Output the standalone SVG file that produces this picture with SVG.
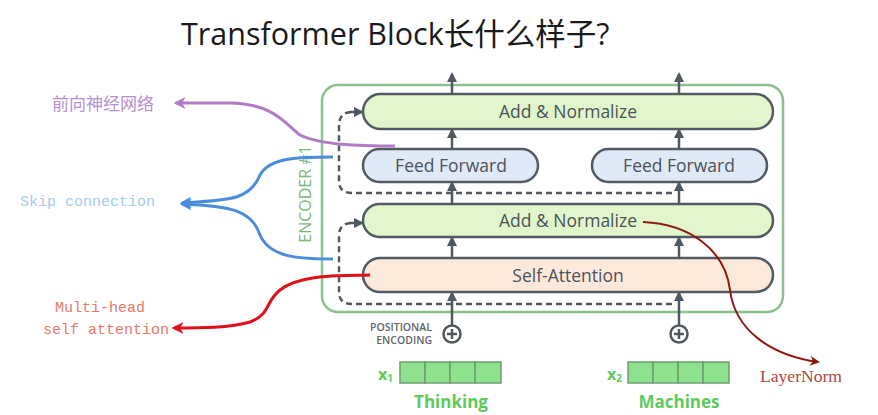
<svg xmlns="http://www.w3.org/2000/svg" width="878" height="415" viewBox="0 0 878 415">
<defs>
<marker id="ag" viewBox="0 0 10 10" refX="8" refY="5" markerWidth="4" markerHeight="4" orient="auto" markerUnits="strokeWidth"><path d="M0,0 L10,5 L0,10 Z" fill="#505860"/></marker>
<marker id="ap" viewBox="0 0 10 10" refX="8" refY="5" markerWidth="4" markerHeight="4" orient="auto" markerUnits="strokeWidth"><path d="M0,0 L10,5 L0,10 L3,5 Z" fill="#b07cc6"/></marker>
<marker id="ab" viewBox="0 0 10 10" refX="8" refY="5" markerWidth="4" markerHeight="4" orient="auto" markerUnits="strokeWidth"><path d="M0,0 L10,5 L0,10 L3,5 Z" fill="#4a8ddc"/></marker>
<marker id="ar" viewBox="0 0 10 10" refX="8" refY="5" markerWidth="4" markerHeight="4" orient="auto" markerUnits="strokeWidth"><path d="M0,0 L10,5 L0,10 L3,5 Z" fill="#e0101a"/></marker>
<marker id="ad" viewBox="0 0 10 10" refX="8" refY="5" markerWidth="5" markerHeight="5" orient="auto" markerUnits="strokeWidth"><path d="M0,0 L10,5 L0,10 L3,5 Z" fill="#901a10"/></marker>
</defs>
<style>
.box{stroke:#525a62;stroke-width:2.5}
.an{fill:#e2f6cc}
.ff{fill:#dfe9f7}
.sa{fill:#fde9dc}
.lbl{font-family:"Open Sans","Liberation Sans",sans-serif;font-size:17.5px;fill:#4c5257;text-anchor:middle}
.flow{stroke:#505860;stroke-width:2.5;fill:none;marker-end:url(#ag)}
.dash{stroke:#505860;stroke-width:2.5;fill:none;stroke-dasharray:6 4}
.cell{fill:#8ee28e;stroke:#6e9c6e;stroke-width:1.5}
.grn{font-family:"Open Sans","Liberation Sans",sans-serif;font-weight:bold;fill:#5ccb5c}
.mono{font-family:"Liberation Mono",monospace;font-size:15px}
.pe{font-family:"Open Sans","Liberation Sans",sans-serif;font-size:10.5px;font-weight:600;fill:#60666c;text-anchor:end}
</style>
<rect width="878" height="415" fill="#ffffff"/>
<text x="181" y="45" font-family="Open Sans, Noto Sans CJK SC, sans-serif" font-size="30.5" fill="#1a1a1a">Transformer Block长什么样子?</text>

<g id="encoder">
<rect x="322" y="85" width="461" height="227" rx="16" fill="none" stroke="#8cc08c" stroke-width="2.5"/>
<text transform="translate(311,194) rotate(-90)" font-family="Open Sans, Liberation Sans, sans-serif" font-size="16" fill="#7cb87c" text-anchor="middle">ENCODER #1</text>
</g>

<g id="connectors">
<path class="flow" d="M452,94 V74"/>
<path class="flow" d="M679,94 V74"/>
<path class="flow" d="M452,149 V130"/>
<path class="flow" d="M679,149 V130"/>
<path class="flow" d="M452,204 V183"/>
<path class="flow" d="M679,204 V183"/>
<path class="flow" d="M452,258 V238"/>
<path class="flow" d="M679,258 V238"/>
<path class="flow" d="M452,325 V293"/>
<path class="flow" d="M679,325 V293"/>
<path class="dash" d="M672,304 H352 Q339,304 339,292 V236 Q339,223 352,223"/>
<path class="flow" d="M350,223 H362"/>
<path class="dash" d="M672,193 H352 Q339,193 339,181 V126 Q339,112 352,112"/>
<path class="flow" d="M350,112 H362"/>
</g>

<g id="add-norm-top"><rect class="box an" x="363" y="94" width="410" height="35" rx="17.5"/><text class="lbl" x="568" y="118">Add &amp; Normalize</text></g>
<g id="ff-left"><rect class="box ff" x="363" y="149" width="175" height="33" rx="16.5"/><text class="lbl" x="451" y="171.5">Feed Forward</text></g>
<g id="ff-right"><rect class="box ff" x="592" y="149" width="175" height="33" rx="16.5"/><text class="lbl" x="679" y="171.5">Feed Forward</text></g>
<g id="add-norm-mid"><rect class="box an" x="363" y="204" width="410" height="33" rx="16.5"/><text class="lbl" x="568" y="227">Add &amp; Normalize</text></g>
<g id="self-attention"><rect class="box sa" x="363" y="258" width="410" height="34" rx="17"/><text class="lbl" x="568" y="281.5">Self-Attention</text></g>

<g id="pos-enc">
<text class="pe" x="432" y="331">POSITIONAL</text>
<text class="pe" x="432" y="344">ENCODING</text>
<g fill="none" stroke="#505860" stroke-width="2.5">
<circle cx="452" cy="334" r="8.5"/><path d="M447,334 H457 M452,329 V339"/>
<circle cx="679" cy="334" r="8.5"/><path d="M674,334 H684 M679,329 V339"/>
</g>
</g>

<g id="input-thinking">
<text class="grn" x="378" y="380" font-size="16">x<tspan font-size="10" dy="2">1</tspan></text>
<rect class="cell" x="400" y="362" width="25" height="21"/><rect class="cell" x="425" y="362" width="25" height="21"/><rect class="cell" x="450" y="362" width="25" height="21"/><rect class="cell" x="475" y="362" width="26" height="21"/>
<text class="grn" x="451" y="408" font-size="17" text-anchor="middle">Thinking</text>
</g>
<g id="input-machines">
<text class="grn" x="607" y="380" font-size="16">x<tspan font-size="10" dy="2">2</tspan></text>
<rect class="cell" x="628" y="362" width="25" height="21"/><rect class="cell" x="653" y="362" width="25" height="21"/><rect class="cell" x="678" y="362" width="25" height="21"/><rect class="cell" x="703" y="362" width="26" height="21"/>
<text class="grn" x="679" y="408" font-size="17" text-anchor="middle">Machines</text>
</g>

<g id="annotations">
<path d="M395,146 C360,146 320,145 300,135 C285,124 275,104 230,103 L176,103" fill="none" stroke="#b07cc6" stroke-width="3" marker-end="url(#ap)"/>
<text x="52" y="110" font-family="Noto Sans CJK SC, sans-serif" font-size="17" fill="#b88ed2">前向神经网络</text>

<path d="M333,157 C300,157 270,157 260,175 C250,200 230,200 182,203" fill="none" stroke="#4a8ddc" stroke-width="3" marker-end="url(#ab)"/>
<path d="M333,259 C300,259 270,258 260,235 C252,210 230,206 182,204" fill="none" stroke="#4a8ddc" stroke-width="3" marker-end="url(#ab)"/>
<text class="mono" x="20" y="206" fill="#a6cbef">Skip connection</text>

<path d="M370,275 C340,276 300,274 280,290 C265,302 270,315 250,322 C230,328 200,328 174,328" fill="none" stroke="#e0101a" stroke-width="3" marker-end="url(#ar)"/>
<text class="mono" fill="#e87868"><tspan x="55" y="312">Multi-head</tspan><tspan x="43" y="334">self attention</tspan></text>

<path d="M643,222 C690,224 725,250 730,290 C735,330 770,355 818,362" fill="none" stroke="#901a10" stroke-width="2" marker-end="url(#ad)"/>
<text x="760" y="382" font-family="Liberation Serif, serif" font-size="17" textLength="82" lengthAdjust="spacingAndGlyphs" fill="#a84a40">LayerNorm</text>
</g>
</svg>
